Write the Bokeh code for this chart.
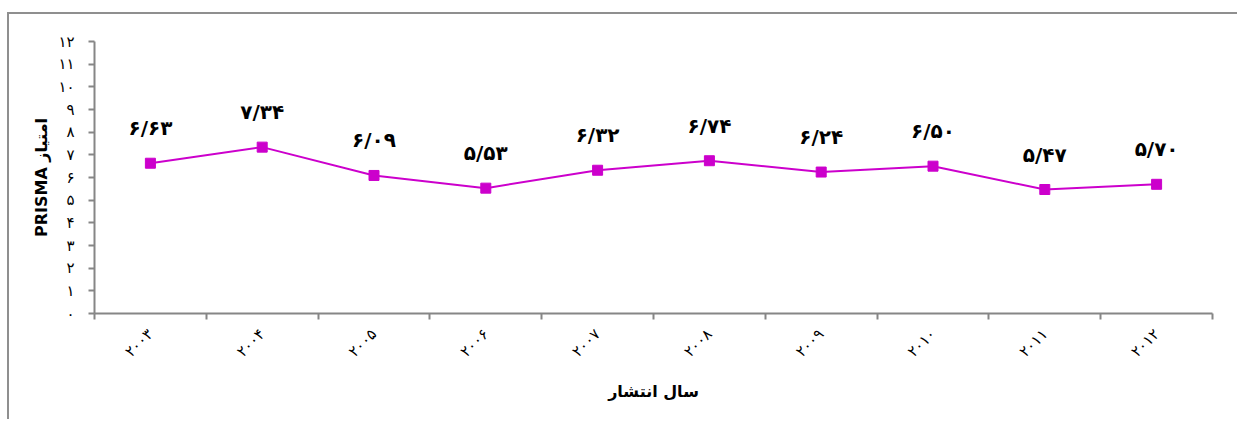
from bokeh.plotting import figure
from bokeh.models import Range1d, FixedTicker, CustomJSTickFormatter, ColumnDataSource
from bokeh.core.properties import value
from bokeh.embed import file_html
from bokeh.resources import INLINE
import math

# ---- data ----
years = ["۲۰۰۳", "۲۰۰۴", "۲۰۰۵", "۲۰۰۶", "۲۰۰۷", "۲۰۰۸", "۲۰۰۹", "۲۰۱۰", "۲۰۱۱", "۲۰۱۲"]
scores = [6.63, 7.34, 6.09, 5.53, 6.32, 6.74, 6.24, 6.50, 5.47, 5.70]
score_labels = ["۶/۶۳", "۷/۳۴", "۶/۰۹", "۵/۵۳", "۶/۳۲", "۶/۷۴", "۶/۲۴", "۶/۵۰", "۵/۴۷", "۵/۷۰"]
y_tick_values = list(range(0, 13))
y_tick_labels = ["۰", "۱", "۲", "۳", "۴", "۵", "۶", "۷", "۸", "۹", "۱۰", "۱۱", "۱۲"]
x_title = "سال انتشار"
y_title = "PRISMA امتیاز"

FONT = "DejaVu Sans"
AXIS_COLOR = "#868686"
LINE_COLOR = "#CC00CC"

xs = [i + 0.5 for i in range(len(years))]
src = ColumnDataSource(dict(x=xs, y=scores, lab=score_labels))

p = figure(width=1230, height=407, output_backend="svg", toolbar_location=None,
           x_range=Range1d(0, len(years)), y_range=Range1d(0, 12),
           min_border_left=85, min_border_top=27, min_border_right=27, min_border_bottom=108)
p.styles = {"margin-left": "7px", "margin-top": "12px",
            "border-left": "2px solid #8f8f8f", "border-top": "2px solid #8f8f8f"}

p.outline_line_color = None
p.grid.grid_line_color = None
p.background_fill_color = "white"
p.border_fill_color = "white"

p.line("x", "y", source=src, line_color=LINE_COLOR, line_width=2)
p.scatter("x", "y", source=src, marker="square", size=10, fill_color=LINE_COLOR, line_color=LINE_COLOR)
p.text("x", "y", text="lab", source=src, text_font=value(FONT), text_font_style="bold",
       text_font_size="20px", text_align="center", text_baseline="middle", y_offset=-35,
       text_color="black")

# x axis
xa = p.xaxis[0]
xa.ticker = FixedTicker(ticks=xs, minor_ticks=list(range(len(years) + 1)))
xa.formatter = CustomJSTickFormatter(args=dict(labels=years), code="return labels[Math.floor(tick)];")
xa.major_tick_out = 0
xa.major_tick_in = 0
xa.minor_tick_out = 6
xa.minor_tick_in = 0
xa.minor_tick_line_color = AXIS_COLOR
xa.minor_tick_line_width = 2
xa.axis_line_color = AXIS_COLOR
xa.axis_line_width = 2
xa.major_label_orientation = math.pi / 4
xa.major_label_text_font = FONT
xa.major_label_text_font_size = "15px"
xa.major_label_text_color = "black"
xa.major_label_standoff = 12
xa.axis_label = x_title
xa.axis_label_text_font = FONT
xa.axis_label_text_font_style = "bold"
xa.axis_label_text_font_size = "16px"
xa.axis_label_text_color = "black"
xa.axis_label_standoff = 12

# y axis
ya = p.yaxis[0]
ya.ticker = FixedTicker(ticks=y_tick_values, minor_ticks=[])
ya.formatter = CustomJSTickFormatter(args=dict(labels=y_tick_labels), code="return labels[Math.round(tick)];")
ya.major_tick_out = 6
ya.major_tick_in = 0
ya.major_tick_line_color = AXIS_COLOR
ya.major_tick_line_width = 2
ya.axis_line_color = AXIS_COLOR
ya.axis_line_width = 2
ya.major_label_text_font = FONT
ya.major_label_text_font_size = "15px"
ya.major_label_text_color = "black"
ya.major_label_standoff = 14
ya.axis_label = y_title
ya.axis_label_text_font = FONT
ya.axis_label_text_font_style = "bold"
ya.axis_label_text_font_size = "16px"
ya.axis_label_text_color = "black"
ya.axis_label_standoff = 4

open("out.html", "w").write(file_html(p, INLINE))
